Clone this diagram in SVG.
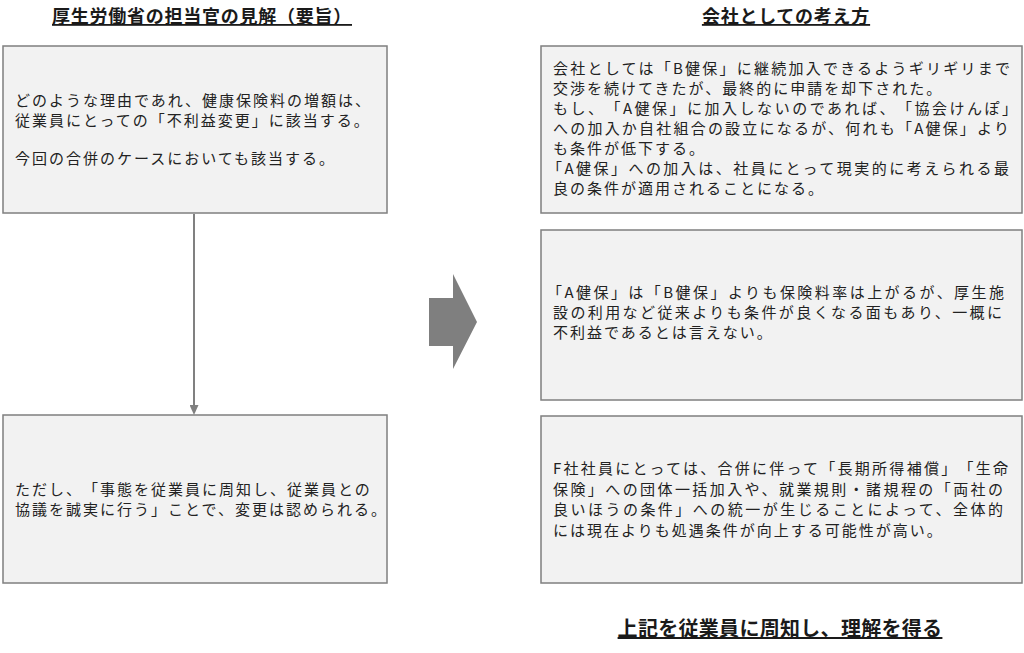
<svg xmlns="http://www.w3.org/2000/svg" width="1024" height="653" viewBox="0 0 1024 653">
  <defs>
    <style>
      .box { fill: #f2f2f2; stroke: #7f7f7f; stroke-width: 1.5; }
      .txt { font-family: "Noto Sans CJK JP", "Noto Sans", sans-serif; font-size: 15px; letter-spacing: 2px; fill: #222222; text-spacing-trim: space-all; }
      .title { font-family: "Noto Sans CJK JP", "Noto Sans", sans-serif; font-size: 18px; font-weight: 700; letter-spacing: 0.75px; fill: #1a1a1a; text-decoration: underline; text-anchor: middle; }
      .title2 { font-size: 20px; letter-spacing: 0.3px; }
      .conn { stroke: #808080; stroke-width: 2; fill: none; }
    </style>
    <marker id="arrowhead" markerUnits="userSpaceOnUse" markerWidth="10" markerHeight="9" refX="1" refY="4.5" orient="auto">
      <path d="M0,0 L10,4.5 L0,9 z" fill="#808080"/>
    </marker>
  </defs>
  <rect width="1024" height="653" fill="#ffffff"/>

  <g id="title-left">
    <text class="title" x="202" y="23">厚生労働省の担当官の見解（要旨）</text>
  </g>
  <g id="title-right">
    <text class="title" x="786" y="23">会社としての考え方</text>
  </g>

  <g id="connectors">
    <line class="conn" x1="194" y1="214" x2="194" y2="406" marker-end="url(#arrowhead)"/>
  </g>

  <g id="node-left-top">
    <rect class="box" x="3" y="46" width="384" height="167"/>
    <text class="txt" x="15" y="105.5">どのような理由であれ、健康保険料の増額は、</text>
    <text class="txt" x="15" y="125.5">従業員にとっての「不利益変更」に該当する。</text>
    <text class="txt" x="15" y="163.5">今回の合併のケースにおいても該当する。</text>
  </g>

  <g id="node-left-bottom">
    <rect class="box" x="3" y="415" width="384" height="168"/>
    <text class="txt" x="15" y="494.5">ただし、「事態を従業員に周知し、従業員との</text>
    <text class="txt" x="15" y="514.5">協議を誠実に行う」ことで、変更は認められる。</text>
  </g>

  <g id="big-arrow">
    <polygon points="429,298 453,298 453,274 477,322 453,369 453,346 429,346" fill="#7f7f7f"/>
  </g>

  <g id="node-right-top">
    <rect class="box" x="541" y="46" width="481" height="167"/>
    <text class="txt" x="553" y="73.5" textLength="459" lengthAdjust="spacing">会社としては「B健保」に継続加入できるようギリギリまで</text>
    <text class="txt" x="553" y="93.5">交渉を続けてきたが、最終的に申請を却下された。</text>
    <text class="txt" x="553" y="113.5" textLength="466" lengthAdjust="spacing">もし、「A健保」に加入しないのであれば、「協会けんぽ」</text>
    <text class="txt" x="553" y="133.5" textLength="458" lengthAdjust="spacing">への加入か自社組合の設立になるが、何れも「A健保」より</text>
    <text class="txt" x="553" y="153.5">も条件が低下する。</text>
    <text class="txt" x="547" y="173.5" textLength="464" lengthAdjust="spacing">「A健保」への加入は、社員にとって現実的に考えられる最</text>
    <text class="txt" x="553" y="193.5">良の条件が適用されることになる。</text>
  </g>

  <g id="node-right-middle">
    <rect class="box" x="541" y="230" width="481" height="170"/>
    <text class="txt" x="547" y="297.5" textLength="459" lengthAdjust="spacing">「A健保」は「B健保」よりも保険料率は上がるが、厚生施</text>
    <text class="txt" x="553" y="317.5" textLength="451" lengthAdjust="spacing">設の利用など従来よりも条件が良くなる面もあり、一概に</text>
    <text class="txt" x="553" y="337.5">不利益であるとは言えない。</text>
  </g>

  <g id="node-right-bottom">
    <rect class="box" x="541" y="416" width="481" height="167"/>
    <text class="txt" x="553" y="474" textLength="457" lengthAdjust="spacing">F社社員にとっては、合併に伴って「長期所得補償」「生命</text>
    <text class="txt" x="553" y="494.5" textLength="452" lengthAdjust="spacing">保険」への団体一括加入や、就業規則・諸規程の「両社の</text>
    <text class="txt" x="553" y="515" textLength="452" lengthAdjust="spacing">良いほうの条件」への統一が生じることによって、全体的</text>
    <text class="txt" x="553" y="535.5">には現在よりも処遇条件が向上する可能性が高い。</text>
  </g>

  <g id="title-bottom">
    <text class="title title2" x="780" y="636">上記を従業員に周知し、理解を得る</text>
  </g>
</svg>
